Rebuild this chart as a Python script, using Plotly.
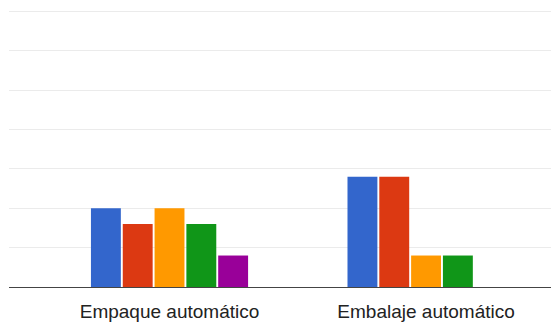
import plotly.graph_objects as go

categories = ["Empaque automático", "Embalaje automático"]
series_names = ["Serie 1", "Serie 2", "Serie 3", "Serie 4", "Serie 5"]
series_values = [
    [5, 7],
    [4, 7],
    [5, 2],
    [4, 2],
    [2, 0],
]
colors = ["#3366cc", "#dc3912", "#ff9900", "#109618", "#990099"]

fig = go.Figure()
for name, vals, col in zip(series_names, series_values, colors):
    fig.add_trace(go.Bar(x=categories, y=vals, name=name, marker_color=col,
                         marker_line_width=0))

fig.update_layout(
    width=551, height=322,
    margin=dict(l=9, r=0, t=10, b=32),
    paper_bgcolor="white", plot_bgcolor="white",
    barmode="group", bargap=0.38, bargroupgap=0.06,
    showlegend=False,
    font=dict(family="Arial, Liberation Sans, sans-serif"),
)
fig.update_xaxes(
    range=[-0.6257, 1.487], showgrid=False, showline=True,
    linecolor="#444", linewidth=1, ticks="",
    tickfont=dict(size=19, color="#222"), ticklabelstandoff=7,
)
fig.update_yaxes(
    range=[0, 17.6], dtick=2.5, showticklabels=False,
    gridcolor="#ebebeb", gridwidth=1.3, zeroline=False,
)
fig.write_html("out.html")
